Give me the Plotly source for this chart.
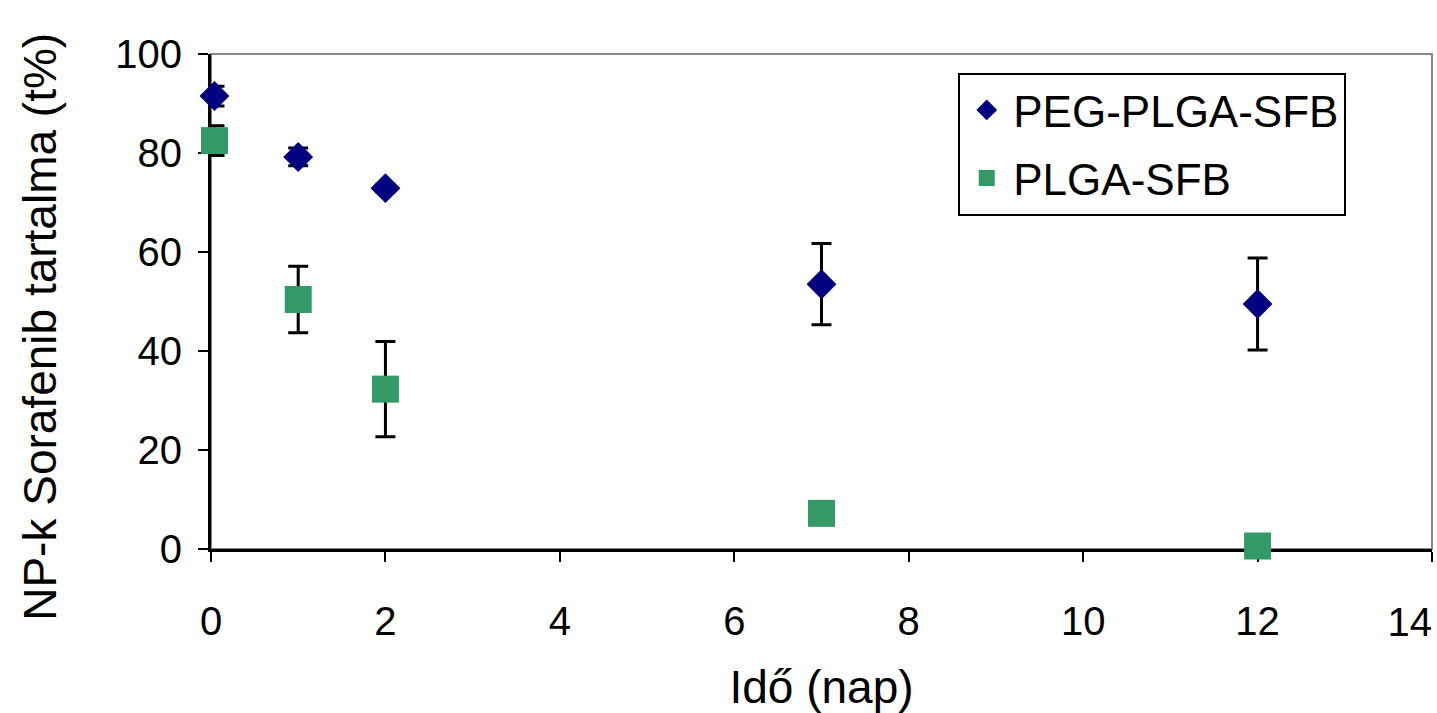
import plotly.graph_objects as go

# Data (days vs Sorafenib content, %)
x_peg = [0.04, 1.0, 2.0, 7.0, 12.0]
y_peg = [91.5, 79.2, 72.9, 53.5, 49.5]
e_peg = [2.0, 1.8, 0.8, 8.2, 9.3]

x_plga = [0.04, 1.0, 2.0, 7.0, 12.0]
y_plga = [82.5, 50.4, 32.3, 7.2, 0.6]
e_plga = [3.0, 6.7, 9.6, 0.0, 0.0]

name_peg = "PEG-PLGA-SFB"
name_plga = "PLGA-SFB"

x_ticks = [0, 2, 4, 6, 8, 10, 12, 14]
x_ticktext = ["0", "2", "4", "6", "8", "10", "12", ""]
y_ticks = [0, 20, 40, 60, 80, 100]

x_title = "Idő (nap)"
y_title = "NP-k Sorafenib tartalma (t%)"

FONT = "Liberation Sans, Arial, sans-serif"

fig = go.Figure()
fig.add_trace(go.Scatter(
    x=x_peg, y=y_peg, mode="markers", name=name_peg,
    legendgroup="a",
    marker=dict(symbol="diamond", size=23, color="#000080"),
    error_y=dict(type="data", array=e_peg, color="black", thickness=3, width=10),
    cliponaxis=False,
))
fig.add_trace(go.Scatter(
    x=x_plga, y=y_plga, mode="markers", name=name_plga,
    legendgroup="b",
    marker=dict(symbol="square", size=27, color="#339966"),
    error_y=dict(type="data", array=e_plga, color="black", thickness=3, width=10),
    cliponaxis=False,
))
# helper trace for the shifted last x tick label
fig.add_trace(go.Scatter(x=[None], y=[None], xaxis="x2", showlegend=False,
                         hoverinfo="skip"))

fig.update_layout(
    width=1437, height=713,
    margin=dict(l=211, r=5, t=54, b=158),
    paper_bgcolor="white", plot_bgcolor="white",
    font=dict(family=FONT, color="black"),
    showlegend=True,
    legend=dict(
        x=0.612, y=0.962, xanchor="left", yanchor="top",
        bgcolor="white", bordercolor="black", borderwidth=2,
        font=dict(size=44, family=FONT, color="black"),
        traceorder="grouped", tracegroupgap=8, itemwidth=43,
    ),
    xaxis=dict(
        range=[0, 14], tickvals=x_ticks, ticktext=x_ticktext,
        showline=True, linecolor="black", linewidth=3,
        ticks="outside", ticklen=10, tickwidth=2, tickcolor="black",
        tickfont=dict(size=40), ticklabelstandoff=25,
        showgrid=False, zeroline=False, layer="below traces",
        title=dict(text=x_title, font=dict(size=46), standoff=33),
    ),
    xaxis2=dict(
        range=[0, 14], overlaying="x", anchor="y", side="bottom",
        tickvals=[14], ticktext=["14"], ticks="", showline=False,
        showgrid=False, zeroline=False,
        tickfont=dict(size=40), ticklabelstandoff=46,
        ticklabelposition="outside left",
    ),
    yaxis=dict(
        range=[0, 100], tickvals=y_ticks,
        showline=True, linecolor="black", linewidth=3,
        ticks="outside", ticklen=10, tickwidth=2, tickcolor="black",
        tickfont=dict(size=40), ticklabelstandoff=8,
        showgrid=False, zeroline=False, layer="below traces",
    ),
    annotations=[dict(
        text=y_title, textangle=-90, showarrow=False,
        xref="paper", yref="paper", x=-0.140, y=0.449,
        xanchor="center", yanchor="middle",
        font=dict(size=46, family=FONT, color="black"),
    )],
    shapes=[dict(type="rect", xref="paper", yref="paper", x0=0, y0=0, x1=1, y1=1,
                 line=dict(color="#888888", width=2), layer="below")],
)

fig.write_html("out.html")
